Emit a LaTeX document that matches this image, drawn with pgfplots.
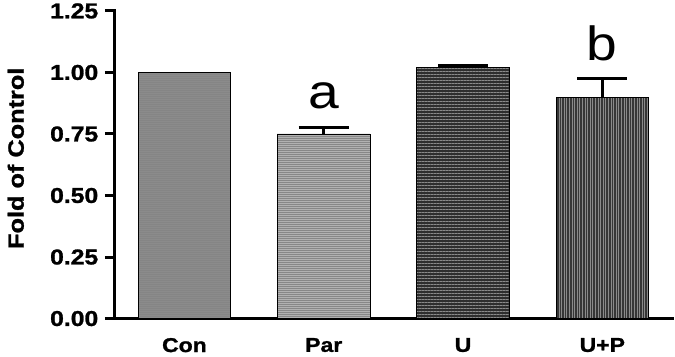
\documentclass[border=0pt]{standalone}
\usepackage{fontspec}
\setmainfont{Liberation Sans}[FakeStretch=1.15, BoldFeatures={FakeBold=1.2}]
\usepackage{pgfplots}
\pgfplotsset{compat=1.18}
\usetikzlibrary{patterns.meta}

\definecolor{conGray}{HTML}{8C8C8C}
\definecolor{parGray}{HTML}{BCBCBC}
\definecolor{uDark}{HTML}{2E2E2E}
\definecolor{upDark}{HTML}{363636}
\definecolor{lineGray}{HTML}{8A8A8A}

\begin{document}
\begin{tikzpicture}
\begin{axis}[
  scale only axis,
  width=558pt, height=307.6pt,
  xmin=-0.5, xmax=3.506,
  ymin=0, ymax=1.25,
  axis lines*=left,
  axis line style={line width=3pt, line cap=rect},
  xtick={0,1,2,3},
  xticklabels={Con,Par,U,U+P},
  x tick style={draw=none},
  ytick={0,0.25,0.5,0.75,1,1.25},
  y tick style={line width=3pt, black},
  major tick length=10pt,
  tick align=outside,
  /pgf/number format/assume math mode=true,
  yticklabel={\pgfmathprintnumber[fixed,fixed zerofill,precision=2]{\tick}},
  yticklabel style={font=\bfseries\fontsize{21.5}{21.5}\selectfont, xshift=-3pt},
  xticklabel style={font=\bfseries\fontsize{20}{20}\selectfont, yshift=-6pt},
  ylabel={Fold of Control},
  ylabel style={font=\bfseries\fontsize{22}{22}\selectfont,
    at={(axis description cs:-0.1774,0.521)}, anchor=center},
  ybar, bar width=0.664, bar shift=0pt,
  clip=false,
  error bars/y dir=plus,
  error bars/y explicit,
  error bars/error bar style={line width=3pt, black},
  error bars/error mark options={rotate=90, mark size=25pt, line width=3pt, black},
]
% Con
\addplot[draw=black, line width=0.8pt, fill=conGray,
  postaction={pattern={Dots[distance=2pt, radius=0.45pt]}, pattern color=black!60}]
  coordinates {(0,1.00)};
% Par
\addplot[draw=black, line width=0.8pt, fill=parGray,
  postaction={pattern={Dots[distance=2pt, radius=0.55pt]}, pattern color=black!75}]
  coordinates {(1,0.75) +- (0,0.025)};
% U
\addplot[draw=black, line width=0.8pt, fill=uDark,
  postaction={pattern={Lines[angle=0, distance=3pt, line width=1pt]}, pattern color=lineGray}]
  coordinates {(2,1.02) +- (0,0.008)};
% U+P
\addplot[draw=black, line width=0.8pt, fill=upDark,
  postaction={pattern={Lines[angle=90, distance=2.6pt, line width=0.9pt]}, pattern color=lineGray}]
  coordinates {(3,0.90) +- (0,0.077)};

\node[anchor=base, font=\fontsize{48}{48}\selectfont] at (axis cs:1,0.855) {a};
\node[anchor=base, font=\fontsize{48}{48}\selectfont] at (axis cs:3,1.05) {b};
\end{axis}
\useasboundingbox (-114.8pt,-37.7pt) rectangle (560.2pt,318.3pt);
\end{tikzpicture}
\end{document}
